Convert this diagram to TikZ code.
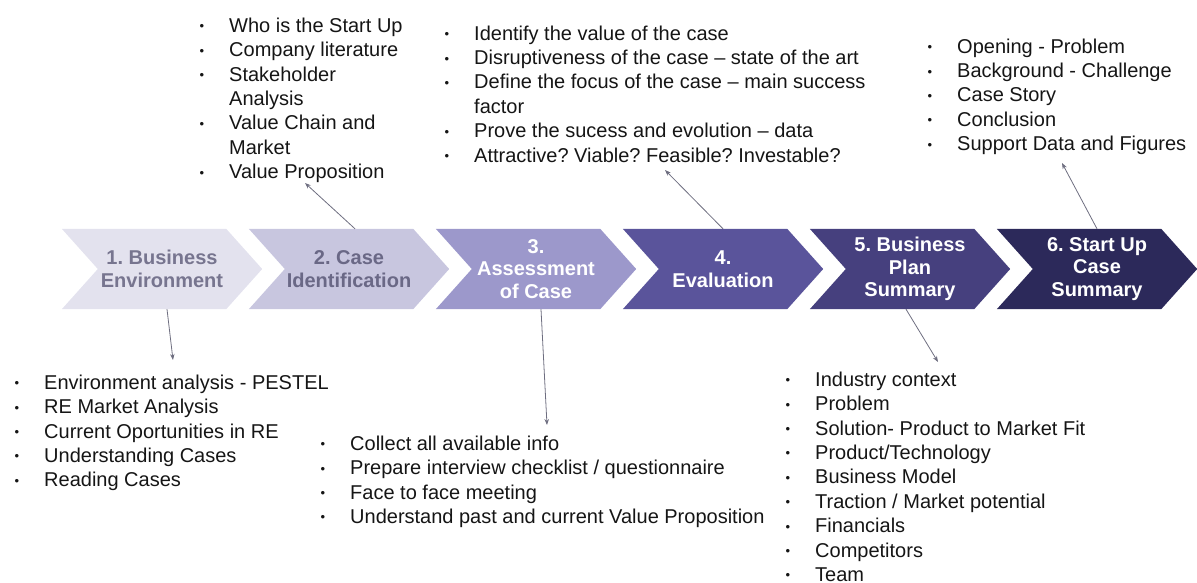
\documentclass[tikz,border=0pt]{standalone}
\usepackage{fontspec}
\setmainfont{Liberation Sans}
\usetikzlibrary{arrows.meta,backgrounds}
\frenchspacing
\definecolor{chA}{HTML}{E3E2EE}
\definecolor{chB}{HTML}{C8C6DF}
\definecolor{chC}{HTML}{9C98CB}
\definecolor{chD}{HTML}{5A549B}
\definecolor{chE}{HTML}{46407E}
\definecolor{chF}{HTML}{2C295A}
\definecolor{txA}{HTML}{77758F}
\definecolor{txB}{HTML}{6A6886}
\definecolor{arrowgray}{HTML}{6E6E80}
\definecolor{listtext}{HTML}{151515}
\newcommand\li{\llap{\raisebox{1.5pt}{\fontsize{13}{13}\selectfont\textbullet}\hspace{25pt}}}
\tikzset{
  listnode/.style={anchor=north west, inner sep=0pt, align=left,
    font=\fontsize{20}{24.4}\selectfont, text=listtext},
  chev/.style={minimum width=200pt, minimum height=80pt, inner sep=0pt,
    align=center, font=\fontsize{20}{22.5}\selectfont\bfseries},
  conn/.style={draw=arrowgray, line width=0.8pt, -{Stealth[length=6pt,width=4.5pt]}},
}
\begin{document}
\begin{tikzpicture}[x=1pt,y=-1pt]
\useasboundingbox (0,0) rectangle (1197,583);
% chevron labels (nodes span each chevron)
\node[chev, text=txA] (c1) at (162,269) {1. Business\\Environment};
\node[chev, text=txB] (c2) at (349,269) {2. Case\\Identification};
\node[chev, text=white] (c3) at (536,269) {3.\\Assessment\\of Case};
\node[chev, text=white] (c4) at (723,269) {4.\\Evaluation};
\node[chev, text=white] (c5) at (910,269) {5. Business\\Plan\\Summary};
\node[chev, text=white] (c6) at (1097,269) {6. Start Up\\Case\\Summary};
\begin{scope}[on background layer]
\foreach \n/\c in {c1/chA,c2/chB,c3/chC,c4/chD,c5/chE,c6/chF}
  \fill[\c] (\n.north west) -- ([xshift=-36pt]\n.north east) -- (\n.east)
    -- ([xshift=-36pt]\n.south east) -- (\n.south west) -- ([xshift=36pt]\n.west) -- cycle;
\end{scope}
% lists
\node[listnode] (lA) at (229,14) {\rule{0pt}{18pt}\li Who is the Start Up\\
  \li Company literature\\
  \li Stakeholder\\
  Analysis\\
  \li Value Chain and\\
  Market\\
  \li Value Proposition};
\node[listnode] (lC) at (474,22) {\rule{0pt}{18pt}\li Identify the value of the case\\
  \li Disruptiveness of the case – state of the art\\
  \li Define the focus of the case – main success\\
  factor\\
  \li Prove the sucess and evolution – data\\
  \li Attractive? Viable? Feasible? Investable?};
\node[listnode] (lD) at (957,35) {\rule{0pt}{18pt}\li Opening - Problem\\
  \li Background - Challenge\\
  \li Case Story\\
  \li Conclusion\\
  \li Support Data and Figures};
\node[listnode] (lB) at (44,371) {\rule{0pt}{18pt}\li Environment analysis - PESTEL\\
  \li RE Market Analysis\\
  \li Current Oportunities in RE\\
  \li Understanding Cases\\
  \li Reading Cases};
\node[listnode] (lE) at (350,432) {\rule{0pt}{18pt}\li Collect all available info\\
  \li Prepare interview checklist / questionnaire\\
  \li Face to face meeting\\
  \li Understand past and current Value Proposition};
\node[listnode] (lF) at (815,368) {\rule{0pt}{18pt}\li Industry context\\
  \li Problem\\
  \li Solution- Product to Market Fit\\
  \li Product/Technology\\
  \li Business Model\\
  \li Traction / Market potential\\
  \li Financials\\
  \li Competitors\\
  \li Team};
% arrow heads near the lists
\coordinate (hA) at (305,183);
\coordinate (hC) at (665,170);
\coordinate (hD) at (1062,163);
\coordinate (hB) at (173,360);
\coordinate (hE) at (547,425);
\coordinate (hF) at (938,362);
\draw[conn] ([xshift=6pt]c2.north) -- (hA);
\draw[conn] (c4.north) -- (hC);
\draw[conn] (c6.north) -- (hD);
\draw[conn] ([xshift=5pt]c1.south) -- (hB);
\draw[conn] ([xshift=5pt]c3.south) -- (hE);
\draw[conn] ([xshift=-4pt]c5.south) -- (hF);
\end{tikzpicture}
\end{document}
